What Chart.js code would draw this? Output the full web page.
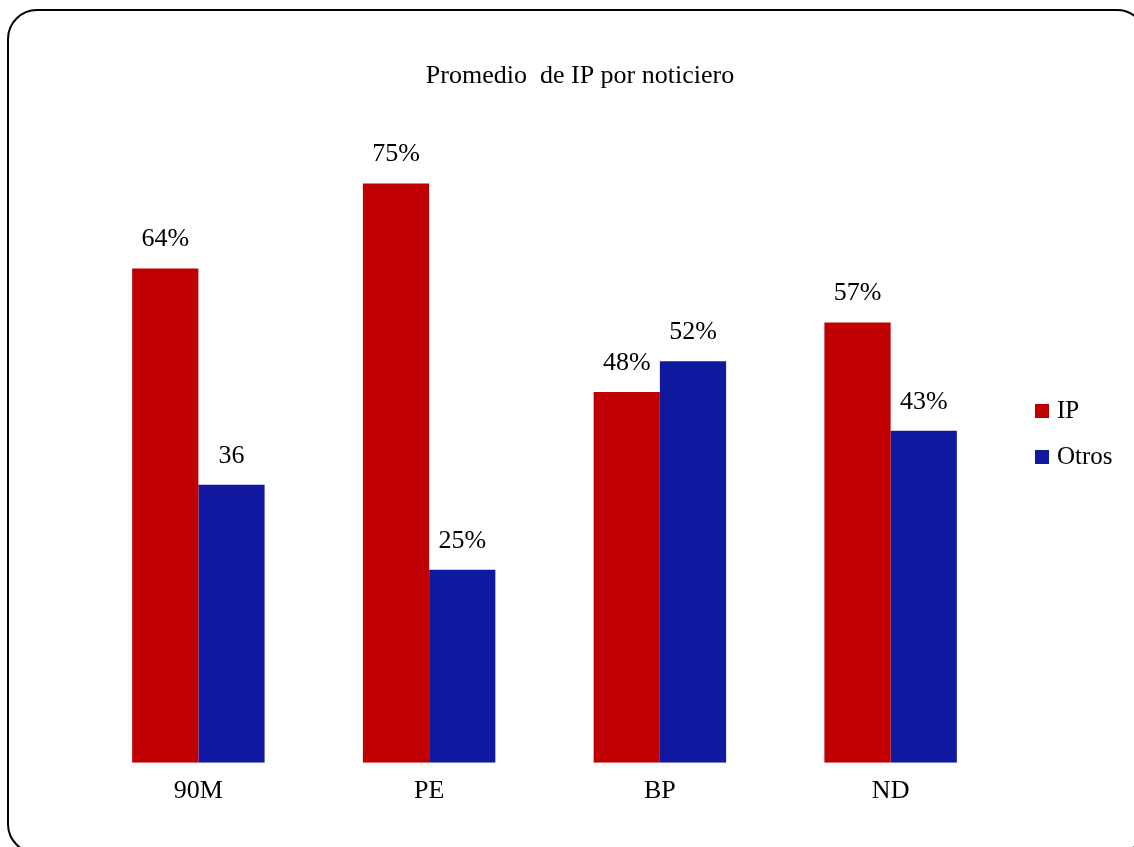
<!DOCTYPE html>
<html>
<head>
<meta charset="utf-8">
<script src="https://cdn.jsdelivr.net/npm/chart.js@4/dist/chart.umd.min.js"></script>
<style>
  html, body { margin: 0; padding: 0; background: #fff; overflow: hidden; }
  #wrap { position: relative; width: 1134px; height: 847px; }
  #frame {
    position: absolute; left: 7px; top: 9px; width: 1140px; height: 845px;
    border: 2px solid #000; border-radius: 30px; box-sizing: border-box;
  }
  #c { position: absolute; left: 0; top: 0; }
</style>
</head>
<body>
<div id="wrap">
  <div id="frame"></div>
  <canvas id="c" width="1134" height="847"></canvas>
</div>
<script>
// datos
const noticieros = ['90M', 'PE', 'BP', 'ND'];
const ipValores = [64, 75, 48, 57];
const otrosValores = [36, 25, 52, 43];
const ipEtiquetas = ['64%', '75%', '48%', '57%'];
const otrosEtiquetas = ['36', '25%', '52%', '43%'];
const titulo = 'Promedio  de IP por noticiero';

const FUENTE = "'Liberation Serif', 'Times New Roman', serif";

// etiquetas encima de las barras, titulo y leyenda a la derecha
const decoracionPlugin = {
    id: 'decoracion',
    afterDraw(chart) {
        const ctx = chart.ctx;
        const textos = [ipEtiquetas, otrosEtiquetas];
        ctx.save();
        ctx.fillStyle = '#000';
        ctx.textBaseline = 'middle';

        ctx.font = '26px ' + FUENTE;
        ctx.textAlign = 'center';
        chart.data.datasets.forEach((ds, i) => {
            chart.getDatasetMeta(i).data.forEach((bar, j) => {
                ctx.fillText(textos[i][j], bar.x, bar.y - 29);
            });
        });

        ctx.fillText(titulo, 580, 76);

        // leyenda
        ctx.textAlign = 'left';
        ctx.font = '25px ' + FUENTE;
        chart.data.datasets.forEach((ds, i) => {
            const y = 411 + i * 46;
            ctx.fillStyle = ds.backgroundColor;
            ctx.fillRect(1035, y - 7, 14, 14);
            ctx.fillStyle = '#000';
            ctx.fillText(ds.label, 1057, y);
        });
        ctx.restore();
    }
};

new Chart(document.getElementById('c'), {
    type: 'bar',
    data: {
        labels: noticieros,
        datasets: [
            { label: 'IP', data: ipValores, backgroundColor: '#C00000' },
            { label: 'Otros', data: otrosValores, backgroundColor: '#1018A0' }
        ]
    },
    options: {
        responsive: false,
        animation: false,
        barPercentage: 1,
        categoryPercentage: 0.574,
        layout: { padding: { left: 83, right: 128, top: 145, bottom: 35 } },
        plugins: {
            title: { display: false },
            legend: { display: false },
            tooltip: { enabled: false }
        },
        scales: {
            x: {
                grid: { display: false },
                border: { display: false },
                ticks: { color: '#000', font: { family: FUENTE, size: 26 }, padding: 5 }
            },
            y: {
                display: false,
                min: 0,
                max: 80
            }
        }
    },
    plugins: [decoracionPlugin]
});
</script>
</body>
</html>
